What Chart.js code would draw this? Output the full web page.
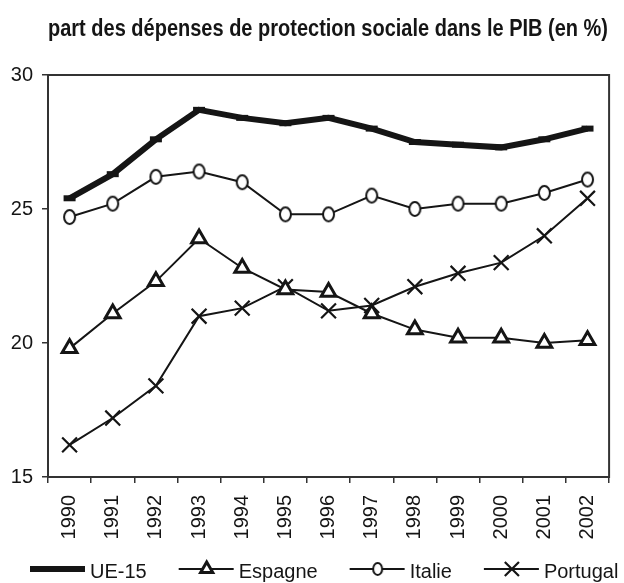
<!DOCTYPE html>
<html>
<head>
<meta charset="utf-8">
<script src="https://cdn.jsdelivr.net/npm/chart.js@4"></script>
<style>
  html, body { margin: 0; padding: 0; background: #fff; }
  #wrap { width: 624px; height: 583px; }
</style>
</head>
<body>
<div id="wrap"><canvas id="chart" width="624" height="583"></canvas></div>
<script>
const years = ["1990", "1991", "1992", "1993", "1994", "1995", "1996", "1997", "1998", "1999", "2000", "2001", "2002"];
const ue15 = [25.4, 26.3, 27.6, 28.7, 28.4, 28.2, 28.4, 28.0, 27.5, 27.4, 27.3, 27.6, 28.0];
const espagne = [19.8, 21.1, 22.3, 23.9, 22.8, 22.0, 21.9, 21.1, 20.5, 20.2, 20.2, 20.0, 20.1];
const italie = [24.7, 25.2, 26.2, 26.4, 26.0, 24.8, 24.8, 25.5, 25.0, 25.2, 25.2, 25.6, 26.1];
const portugal = [16.2, 17.2, 18.4, 21.0, 21.3, 22.1, 21.2, 21.4, 22.1, 22.6, 23.0, 24.0, 25.4];
const titleText = "part des dépenses de protection sociale dans le PIB (en %)";

const ink = "#151515";
const font = "'Liberation Sans', Arial, sans-serif";

// oval marker used by Italie (taller than wide)
function ovalMarker(rx, ry, lw) {
    let c = document.createElement("canvas");
    c.width = Math.ceil(rx * 2 + lw + 2); c.height = Math.ceil(ry * 2 + lw + 2);
    let g = c.getContext("2d");
    g.fillStyle = "#fff";
    g.strokeStyle = ink;
    g.lineWidth = lw;
    g.beginPath();
    g.ellipse(c.width / 2, c.height / 2, rx, ry, 0, 0, Math.PI * 2);
    g.fill();
    g.stroke();
    return c;
}
const oval = ovalMarker(5.5, 7, 2);
const ovalSmall = ovalMarker(4.5, 6, 2);

const frame = {
    id: "frame",
    beforeDatasetsDraw(chart) {
        const a = chart.chartArea, ctx = chart.ctx;
        ctx.save();
        ctx.strokeStyle = "#333";
        ctx.lineWidth = 2;
        ctx.strokeRect(a.left, a.top, a.right - a.left, a.bottom - a.top);
        ctx.restore();
    },
    afterDraw(chart) {
        const ctx = chart.ctx;
        ctx.save();
        // title, narrow bold
        ctx.font = "bold 23px " + font;
        ctx.fillStyle = ink;
        ctx.textBaseline = "alphabetic";
        let w = ctx.measureText(titleText).width;
        ctx.translate(48, 36);
        ctx.scale(560 / w, 1);
        ctx.fillText(titleText, 0, 0);
        ctx.restore();

        // legend: line + marker + label
        ctx.save();
        ctx.font = "20px " + font;
        ctx.textBaseline = "alphabetic";
        let x = 30, y = 569;
        chart.data.datasets.forEach(ds => {
            ctx.strokeStyle = ink;
            ctx.lineWidth = ds.borderWidth;
            ctx.beginPath();
            ctx.moveTo(x, y);
            ctx.lineTo(x + 55, y);
            ctx.stroke();
            if (ds.legendStyle) {
                ctx.fillStyle = "#fff";
                ctx.strokeStyle = ink;
                ctx.lineWidth = ds.pointBorderWidth;
                Chart.helpers.drawPoint(ctx, {
                    pointStyle: ds.legendStyle, radius: ds.legendRadius, rotation: 0,
                    borderWidth: ds.pointBorderWidth
                }, x + 28, y);
            }
            ctx.fillStyle = ink;
            ctx.fillText(ds.label, x + 60, 578);
            x += 60 + ctx.measureText(ds.label).width + 32;
        });
        ctx.restore();
    }
};

new Chart(document.getElementById("chart"), {
    type: "line",
    data: {
        labels: years,
        datasets: [
            {
                label: "UE-15", data: ue15, borderColor: ink, borderWidth: 6,
                pointStyle: "line", pointRadius: 6, pointBorderWidth: 6,
                pointBorderColor: ink, legendStyle: null
            },
            {
                label: "Espagne", data: espagne, borderColor: ink, borderWidth: 2,
                pointStyle: "triangle", pointRadius: 8.5, pointBorderWidth: 3,
                pointBackgroundColor: "#fff", pointBorderColor: ink,
                legendStyle: "triangle", legendRadius: 7
            },
            {
                label: "Italie", data: italie, borderColor: ink, borderWidth: 2,
                pointStyle: oval, pointRadius: 7, pointBorderWidth: 2,
                pointBackgroundColor: "#fff", pointBorderColor: ink,
                legendStyle: ovalSmall, legendRadius: 6
            },
            {
                label: "Portugal", data: portugal, borderColor: ink, borderWidth: 2,
                pointStyle: "crossRot", pointRadius: 10.5, pointBorderWidth: 2.2,
                pointBackgroundColor: "#fff", pointBorderColor: ink,
                legendStyle: "crossRot", legendRadius: 10
            }
        ]
    },
    options: {
        responsive: false,
        animation: false,
        layout: { padding: { top: 75, right: 1, left: 0, bottom: 0 } },
        elements: { line: { tension: 0 } },
        plugins: {
            legend: { display: false },
            title: { display: false },
            tooltip: { enabled: false }
        },
        scales: {
            x: {
                offset: true,
                border: { display: false },
                grid: { offset: true, drawOnChartArea: false, drawTicks: true, tickLength: 6, color: "#333", lineWidth: 1.5 },
                ticks: {
                    autoSkip: false, minRotation: 90, maxRotation: 90, padding: 12,
                    color: ink, font: { family: font, size: 20 }
                },
                afterFit(scale) { scale.height = 106; }
            },
            y: {
                min: 15, max: 30,
                border: { display: false },
                grid: { drawOnChartArea: false, drawTicks: true, tickLength: 6, color: "#333", lineWidth: 1.5 },
                ticks: {
                    stepSize: 5, padding: 9,
                    color: ink, font: { family: font, size: 20 }
                },
                afterFit(scale) { scale.width = 48; }
            }
        }
    },
    plugins: [frame]
});
</script>
</body>
</html>
